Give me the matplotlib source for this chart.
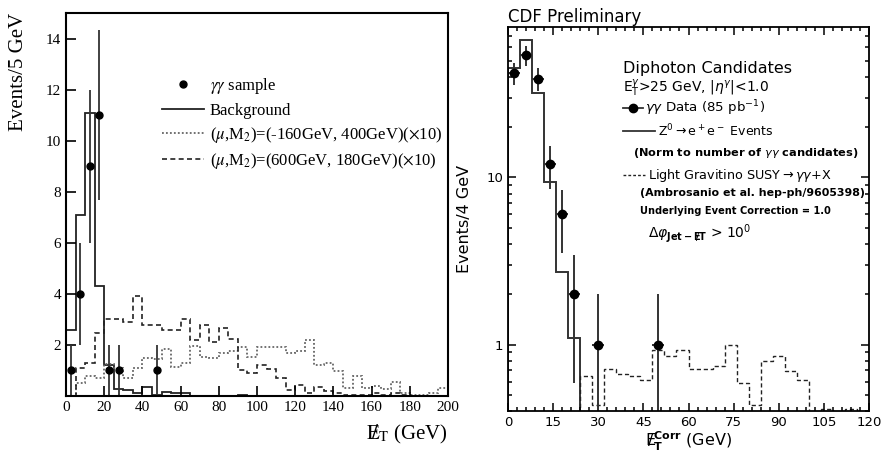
import numpy as np
import matplotlib
matplotlib.use("Agg")
import matplotlib.pyplot as plt
from matplotlib.lines import Line2D
from matplotlib.ticker import FixedLocator, FixedFormatter, MultipleLocator, NullFormatter

# ---- left panel: missing E_T, 5 GeV bins ----
left_edges = np.arange(0, 205, 5)
background = [2.6, 7.1, 11.1, 4.3, 1.2, 0.29, 0.24, 0.12, 0.35, 0.02,
              0.15, 0.12, 0.13, 0.0, 0.01, 0.01, 0.0, 0.0, 0.02, 0.0,
              0.0, 0.0, 0.0, 0.0, 0.0, 0.0, 0.0, 0.0, 0.0, 0.0,
              0.0, 0.0, 0.0, 0.0, 0.0, 0.0, 0.0, 0.0, 0.0, 0.0]
model_a = [0.0, 0.5, 0.78, 0.72, 1.25, 1.1, 0.72, 1.1, 1.5, 1.45,
           1.85, 1.12, 1.28, 1.95, 1.52, 1.5, 1.7, 1.76, 1.9, 1.52,
           1.9, 1.92, 1.9, 1.68, 1.76, 2.2, 1.22, 1.3, 0.98, 0.31,
           0.78, 0.33, 0.38, 0.27, 0.55, 0.1, 0.02, 0.05, 0.1, 0.33]
model_b = [0.0, 1.1, 1.3, 2.45, 3.0, 3.0, 2.9, 3.9, 2.78, 2.78,
           2.58, 2.58, 3.0, 2.2, 2.8, 2.12, 2.68, 2.25, 1.0, 0.9,
           1.22, 1.05, 0.7, 0.25, 0.45, 0.12, 0.35, 0.2, 0.1, 0.02,
           0.02, 0.05, 0.1, 0.02, 0.1, 0.05, 0.0, 0.0, 0.0, 0.0]
left_x = [2.5, 7.5, 12.5, 17.5, 22.5, 27.5, 47.5]
left_n = [1, 4, 9, 11, 1, 1, 1]
left_yticks = [2, 4, 6, 8, 10, 12, 14]
left_xticks = [0, 20, 40, 60, 80, 100, 120, 140, 160, 180, 200]

# ---- right panel: CDF, 4 GeV bins ----
right_x = [2, 6, 10, 14, 18, 22, 30, 50]
right_n = [42, 54, 39, 12, 6, 2, 1, 1]
zee_edges = [0, 4, 8, 12, 16, 20, 24]
zee = [45, 66, 32, 9.4, 2.7, 1.1]
grav_edges = np.arange(24, 124, 4)
gravitino = [0.646, 0.437, 0.715, 0.667, 0.646, 0.617, 0.924, 0.851,
             0.924, 0.715, 0.715, 0.741, 1.0, 0.589, 0.437, 0.795,
             0.851, 0.692, 0.617, 0.35, 0.41, 0.38, 0.41, 0.35]
right_xticks = [0, 15, 30, 45, 60, 75, 90, 105, 120]

SERIF = 'Liberation Serif'
SANS = 'DejaVu Sans'

fig = plt.figure(figsize=(8.81, 4.55), dpi=100)
W, H = 881.0, 455.0


def px_axes(l, t, r, b):
    return fig.add_axes([l / W, 1 - b / H, (r - l) / W, (b - t) / H])


# ================= left =================
ax = px_axes(66, 13, 448, 396)
ax.stairs(background, left_edges, color='#222222', lw=1.3)
ax.stairs(model_a, left_edges, color='#666666', lw=1.3, ls=(0, (1, 1.2)))
ax.stairs(model_b, left_edges, color='#222222', lw=1.2, ls=(0, (3, 2)))
ax.errorbar(left_x, left_n, yerr=np.sqrt(left_n), fmt='o', color='black',
            ms=5, ecolor='#333333', elinewidth=1.3, capsize=0)
ax.set_xlim(0, 200)
ax.set_ylim(0, 15)
ax.set_xticks(left_xticks)
ax.set_yticks(left_yticks)
ax.tick_params(direction='in', length=7, width=1.2, labelsize=11,
               top=False, right=False)
for lab in ax.get_xticklabels() + ax.get_yticklabels():
    lab.set_family(SERIF)
for s in ax.spines.values():
    s.set_linewidth(1.5)

ax.set_ylabel('Events/5 GeV', family=SERIF, fontsize=15, loc='top')
ax.yaxis.set_label_coords(-0.10, 1.0)
ax.set_xlabel(r'${\mathrm{E}\hspace{-0.45}/}_{\mathrm{T}}$ (GeV)', family=SERIF,
              fontsize=15, loc='right', math_fontfamily='stix')
ax.xaxis.set_label_coords(1.0, -0.07)

handles = [Line2D([], [], ls='none', marker='o', ms=5, color='black'),
           Line2D([], [], color='#222222', lw=1.3),
           Line2D([], [], color='#666666', lw=1.3, ls=(0, (1, 1.2))),
           Line2D([], [], color='#222222', lw=1.2, ls=(0, (3, 2)))]
labels = [r'$\gamma\gamma$ sample', 'Background',
          r'($\mu$,M$_2$)=(-160GeV, 400GeV)($\times$10)',
          r'($\mu$,M$_2$)=(600GeV, 180GeV)($\times$10)']
ax.legend(handles, labels, loc='upper left', bbox_to_anchor=(154 / W, 1 - 68 / H),
          bbox_transform=fig.transFigure, frameon=False, borderpad=0,
          handlelength=2.5, handletextpad=0.35, labelspacing=0.38,
          prop={'family': SERIF, 'size': 12, 'math_fontfamily': 'stix'})

# ================= right =================
bx = px_axes(508, 26.5, 869, 411)
bx.set_yscale('log')
bx.stairs(zee, zee_edges, color='#333333', lw=1.4, baseline=1e-3)
bx.stairs(gravitino, grav_edges, color='#222222', lw=1.0, ls=(0, (3, 2)),
          baseline=1e-3)
bx.errorbar(right_x, right_n, yerr=np.sqrt(right_n), xerr=2, fmt='o',
            color='black', ms=6, ecolor='#333333', elinewidth=1.4, capsize=0)
bx.set_xlim(0, 120)
bx.set_ylim(0.4, 80)
bx.xaxis.set_major_locator(FixedLocator(right_xticks))
bx.xaxis.set_minor_locator(MultipleLocator(3))
bx.yaxis.set_major_locator(FixedLocator([1, 10]))
bx.yaxis.set_major_formatter(FixedFormatter(['1', '10']))
bx.yaxis.set_minor_locator(FixedLocator([0.4, 0.5, 0.6, 0.7, 0.8, 0.9, 2, 3, 4, 5,
                                         6, 7, 8, 9, 20, 30, 40, 50, 60, 70]))
bx.yaxis.set_minor_formatter(NullFormatter())
bx.tick_params(which='both', direction='in', top=True, right=True, width=1.1,
               labelsize=9.5)
bx.tick_params(which='major', length=6)
bx.tick_params(which='minor', length=3)
for lab in bx.get_xticklabels() + bx.get_yticklabels():
    lab.set_family(SANS)
for s in bx.spines.values():
    s.set_linewidth(1.3)

bx.set_title('CDF Preliminary', loc='left', family=SANS, fontsize=12, pad=3)
bx.set_ylabel('Events/4 GeV', family=SANS, fontsize=11.5)
bx.yaxis.set_label_coords(-0.10, 0.5)
bx.set_xlabel(r'${\mathrm{E}\hspace{-0.48}/}_{\mathbf{T}}^{\mathbf{Corr}}$ (GeV)',
              family=SANS, fontsize=11.5, math_fontfamily='dejavusans')
bx.xaxis.set_label_coords(0.5, -0.05)

mf = 'dejavusans'
def label(x, y, s, size=11, weight='normal'):
    fig.text(x / W, 1 - y / H, s, family=SANS, fontsize=size, weight=weight,
             va='center', ha='left', math_fontfamily=mf)

label(623, 69, 'Diphoton Candidates', 11.5)
label(623, 88, r'E$_\mathrm{T}^\gamma$>25 GeV, |$\eta^\gamma$|<1.0', 10)
label(645, 108, r'$\gamma\gamma$ Data (85 pb$^{-1}$)', 9.6)
label(658, 131, r'Z$^0$$\rightarrow$e$^+$e$^-$ Events', 9.0)
label(633, 153, r'(Norm to number of $\gamma\gamma$ candidates)', 8.2, 'bold')
label(648, 175, r'Light Gravitino SUSY$\rightarrow\gamma\gamma$+X', 9.2)
label(640, 193, '(Ambrosanio et al. hep-ph/9605398)', 7.9, 'bold')
label(640, 211, 'Underlying Event Correction = 1.0', 7.1, 'bold')
label(648, 234, r'$\Delta\varphi_{\mathbf{Jet-}{\mathbf{E}\hspace{-0.5}/}\mathbf{T}}$ > 10$^0$', 10)

# legend keys for the right panel, drawn in figure pixels
def key(x0, x1, y, **kw):
    fig.add_artist(Line2D([x0 / W, x1 / W], [1 - y / H, 1 - y / H], **kw))

key(623, 643, 108, color='#333333', lw=1.3)
fig.add_artist(Line2D([633 / W], [1 - 108 / H], marker='o', ms=6, color='black'))
key(623, 655, 131, color='#333333', lw=1.3)
key(623, 645, 175, color='#222222', lw=1.0, ls=(0, (2, 1.5)))

fig.savefig('out.png', dpi=100)
